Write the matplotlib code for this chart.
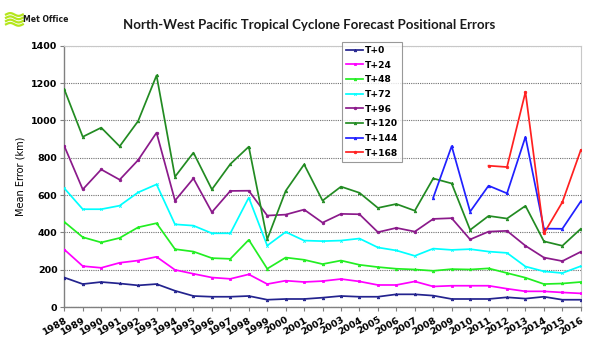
import numpy as np
import matplotlib
matplotlib.use("Agg")
import matplotlib.pyplot as plt
from matplotlib.lines import Line2D

years = list(range(1988, 2017))

t0 = [158, 123, 134, 126, 116, 123, 87, 59, 55, 55, 59, 39, 43, 43, 50, 59, 55, 55,
      68, 68, 61, 43, 43, 43, 52, 45, 55, 39, 39]
t24 = [308, 219, 210, 237, 249, 269, 199, 178, 158, 151, 175, 123, 141, 134, 139, 150, 137, 118,
       118, 137, 110, 114, 114, 114, 98, 84, 84, 78, 73]
t48 = [456, 374, 346, 370, 427, 449, 310, 297, 262, 258, 360, 205, 265, 253, 230, 249, 226, 214,
       205, 201, 194, 203, 201, 207, 182, 157, 123, 126, 134]
t72 = [636, 524, 524, 543, 614, 657, 443, 436, 395, 395, 586, 329, 402, 356, 353, 356, 367, 319,
       303, 274, 313, 306, 310, 297, 290, 217, 191, 182, 219]
t96 = [862, 630, 737, 682, 787, 934, 570, 689, 508, 622, 623, 490, 495, 522, 452, 499, 497, 401,
       424, 404, 472, 476, 362, 404, 408, 328, 265, 246, 296]
t120 = [1166, 912, 961, 861, 996, 1241, 698, 827, 630, 766, 859, 363, 622, 764, 570, 645, 612, 531,
        552, 516, 689, 662, 413, 488, 474, 542, 352, 328, 419]
years144 = list(range(2008, 2017))
t144 = [586, 862, 511, 650, 609, 912, 420, 419, 566]
years168 = list(range(2011, 2017))
t168 = [757, 750, 1152, 394, 562, 841]

series = [
    ("T+0", years, t0, "#23238E", "^"),
    ("T+24", years, t24, "#FF00FF", "s"),
    ("T+48", years, t48, "#22EE22", "^"),
    ("T+72", years, t72, "#00FFFF", "x"),
    ("T+96", years, t96, "#8B1A8B", "o"),
    ("T+120", years, t120, "#228B22", "^"),
    ("T+144", years144, t144, "#2020FF", "^"),
    ("T+168", years168, t168, "#FF2020", "o"),
]

fig = plt.figure(figsize=(6, 3.45), dpi=100)
ax = fig.add_axes([0.1072, 0.1101, 0.8608, 0.7574])

for label, xs, ys, col, mk in series:
    ax.plot(xs, ys, color=col, lw=1.25, marker=mk, ms=1.8, mew=0.6, label=label, zorder=3)

ax.set_xlim(1988, 2016)
ax.set_ylim(0, 1400)
ax.set_yticks(range(0, 1401, 200))
ax.set_xticks(years)
ax.set_xticklabels([str(y) for y in years], rotation=30, ha="right",
                   rotation_mode="anchor", fontsize=6.8, fontweight="bold",
                   family="DejaVu Sans")
for t in ax.get_yticklabels():
    t.set_fontsize(6.8)
    t.set_fontweight("bold")
ax.tick_params(axis="both", direction="out", length=3, width=0.8, color="#808080", pad=2)
ax.tick_params(axis="x", pad=3)
ax.yaxis.grid(True, linestyle=(0, (1, 1)), color="#707070", lw=0.8)
ax.set_axisbelow(True)
for s in ["left", "bottom"]:
    ax.spines[s].set_color("#808080")
    ax.spines[s].set_linewidth(1.0)
for s in ["top", "right"]:
    ax.spines[s].set_color("#C8C8C8")
    ax.spines[s].set_linewidth(0.8)

ax.set_ylabel("Mean Error (km)", fontsize=7, labelpad=4)

fig.text(0.515, 0.927, "North-West Pacific Tropical Cyclone Forecast Positional Errors",
         ha="center", va="center", fontsize=9.5, fontweight="bold", family="Lato",
         color="#1a1a1a")

leg = ax.legend(loc="upper left", bbox_to_anchor=(0.5695, 0.879),
                bbox_transform=fig.transFigure, frameon=True, fancybox=False,
                shadow=False, prop={"size": 6.6, "weight": "bold"},
                handlelength=1.9, handletextpad=0.15, labelspacing=0.62,
                borderpad=0.45, borderaxespad=0)
leg.get_frame().set_edgecolor("#808080")
leg.get_frame().set_linewidth(0.8)
leg.set_zorder(10)

# Met Office logo
xx = np.linspace(0.010, 0.038, 30)
for i in range(4):
    yy = 0.958 - i * 0.0095 + 0.004 * np.sin((xx - 0.010) / 0.028 * 2 * np.pi)
    fig.add_artist(Line2D(xx, yy, color="#B5E61D", lw=1.6, transform=fig.transFigure))
fig.text(0.038, 0.944, "Met Office", ha="left", va="center", fontsize=5.6,
         fontweight="bold", family="Liberation Sans Narrow", color="#1a1a1a")

fig.savefig("out.png", dpi=100)
